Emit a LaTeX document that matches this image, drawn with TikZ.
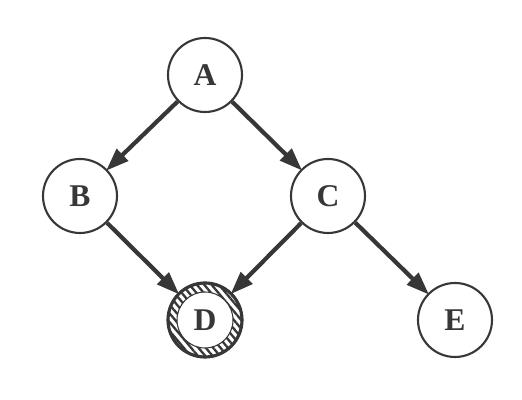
\documentclass[tikz,border=0pt]{standalone}
\usepackage{fontspec}
\setmainfont{Liberation Serif}
\usepackage{tikz}
\usetikzlibrary{positioning, arrows.meta, patterns.meta}
\definecolor{inkgray}{RGB}{55, 55, 55}

\begin{document}
\begin{tikzpicture}[font=\fontsize{18}{21}\selectfont\bfseries,
    var/.style={circle, draw=inkgray, line width=1.2pt, fill=white, minimum size=1.48cm, inner sep=0pt, text=inkgray},
    edge/.style={-{Triangle[length=0.46cm, width=0.32cm]}, inkgray, line width=2.4pt, shorten >=-1pt}]
  \useasboundingbox (0,0) rectangle (10.44,8);
  \node[var] (A) at (4.10, 6.50) {A};
  \node[var] (B) at (1.60, 4.08) {B};
  \node[var] (C) at (6.56, 4.08) {C};
  \node[var] (D) at (4.10, 1.60) {};
  \node[var] (E) at (9.10, 1.60) {E};

  % hatched ring on the observed node
  \fill[pattern={Lines[angle=-50, distance=3.2pt, line width=1.3pt]}, pattern color=inkgray, even odd rule]
    (D.center) circle (0.74) (D.center) circle (0.56);
  \draw[inkgray, line width=1.8pt] (D.center) circle (0.74);
  \draw[inkgray, line width=0.6pt] (D.center) circle (0.56);
  \node[text=inkgray] at (D.center) {D};

  % edges
  \draw[edge] (A)--(B);
  \draw[edge] (A)--(C);
  \draw[edge] (B)--(D);
  \draw[edge] (C)--(D);
  \draw[edge] (C)--(E);
\end{tikzpicture}
\end{document}
